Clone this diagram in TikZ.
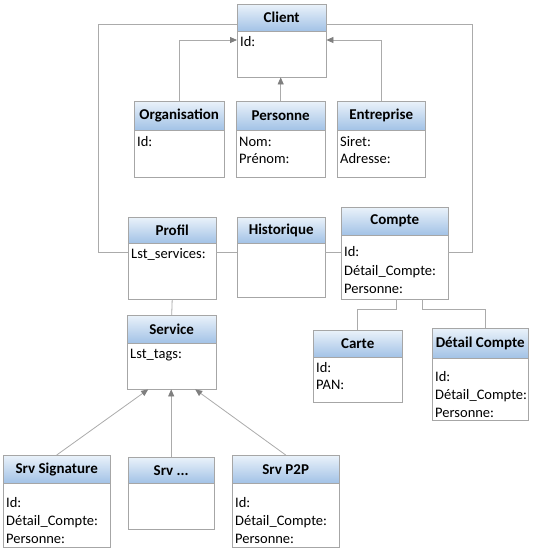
\documentclass[tikz,border=0pt]{standalone}
\usepackage{fontspec}
\setmainfont{Carlito}
\usetikzlibrary{arrows.meta}

\definecolor{boxgray}{HTML}{A6A6A6}
\definecolor{linegray}{HTML}{ABABAB}
\definecolor{tipgray}{HTML}{7F7F7F}
\definecolor{hdtop}{HTML}{EAF2FA}
\definecolor{hdbot}{HTML}{A2C2E6}

% width, height, first line height, text
\newcommand{\attrs}[4]{\parbox[c][#2][t]{#1}{\leftskip=3pt\rule{0pt}{#3}#4}}

\begin{document}
\begin{tikzpicture}[x=1pt,y=-1pt]
        \tikzset{
            hdr/.style={draw=boxgray, top color=hdtop, bottom color=hdbot, inner sep=0pt,
            anchor=north west, font=\bfseries\fontsize{15}{18}\selectfont},
            attr/.style={draw=boxgray, fill=white, inner sep=0pt, anchor=north west,
            font=\fontsize{14.5}{17}\selectfont},
            attrl/.style={attr, font=\fontsize{14.5}{18.3}\selectfont},
            link/.style={draw=linegray, line width=0.8pt},
            isa/.style={link, -{Triangle[length=7pt,width=6pt,color=tipgray]}}
            }
            \useasboundingbox (0,0) rectangle (541,550);

            \node[hdr, minimum width=89pt, minimum height=27pt] (clientH) at (237,4) {Client};
            \node[attr] (client) at (237,31) {\attrs{89pt}{46pt}{15.5pt}{Id:}};

            \node[hdr, minimum width=90pt, minimum height=29pt] (orgaH) at (134,101) {Organisation};
            \node[attr] (orga) at (134,130) {\attrs{90pt}{47pt}{16pt}{Id:}};

            \node[hdr, minimum width=89pt, minimum height=29pt] (persH) at (236,101) {Personne};
            \node[attr] (pers) at (236,130) {\attrs{89pt}{47pt}{16pt}{Nom:\\Prénom:}};

            \node[hdr, minimum width=88pt, minimum height=29pt] (entH) at (337,101) {Entreprise};
            \node[attr] (ent) at (337,130) {\attrs{88pt}{47pt}{16pt}{Siret:\\Adresse:}};

            \node[hdr, minimum width=88pt, minimum height=26pt] (profilH) at (128,217) {Profil};
            \node[attr] (profil) at (128,243) {\attrs{88pt}{56pt}{15pt}{Lst\_services:}};

            \node[hdr, minimum width=88pt, minimum height=26pt] (histoH) at (237,217) {Historique};
            \node[attr] (histo) at (237,243) {\attrs{88pt}{54pt}{15pt}{}};

            \node[hdr, minimum width=107pt, minimum height=28pt] (compteH) at (341,207) {Compte};
            \node[attrl] (compte) at (341,235) {\attrs{107pt}{64pt}{21.5pt}{Id:\\Détail\_Compte:\\Personne:}};

            \node[hdr, minimum width=89pt, minimum height=27pt] (carteH) at (313,330) {Carte};
            \node[attr] (carte) at (313,357) {\attrs{89pt}{45pt}{15pt}{Id:\\PAN:}};

            \node[hdr, minimum width=96pt, minimum height=30pt] (detailH) at (432,328) {Détail Compte};
            \node[attrl] (detail) at (432,358) {\attrs{96pt}{62pt}{23pt}{Id:\\Détail\_Compte:\\Personne:}};

            \node[hdr, minimum width=89pt, minimum height=28pt] (serviceH) at (127,315) {Service};
            \node[attr] (service) at (127,343) {\attrs{89pt}{46pt}{15pt}{Lst\_tags:}};

            \node[hdr, minimum width=107pt, minimum height=28pt] (sigH) at (3,455) {Srv Signature};
            \node[attrl] (sig) at (3,483) {\attrs{107pt}{64pt}{24pt}{Id:\\Détail\_Compte:\\Personne:}};

            \node[hdr, minimum width=86pt, minimum height=26pt] (etcH) at (128,457) {Srv ...};
            \node[attr] (etc) at (128,483) {\attrs{86pt}{46pt}{15pt}{}};

            \node[hdr, minimum width=107pt, minimum height=28pt] (p2pH) at (232,455) {Srv P2P};
            \node[attrl] (p2p) at (232,483) {\attrs{107pt}{64pt}{24pt}{Id:\\Détail\_Compte:\\Personne:}};

            % generalisation of Client
            \draw[isa] (orgaH.north) |- (client.west |- 0,40);
            \draw[isa] (persH.north) -- (persH.north |- client.south);
            \draw[isa] (entH.north) |- (client.east |- 0,40);

            % associations
            \draw[link] (profil.west |- 0,252) -| (98,24) -- (clientH.west |- 0,24);
            \draw[link] (profil.east |- 0,252) -- (histo.west |- 0,252);
            \draw[link] (histo.east |- 0,252) -- (compte.west |- 0,252);
            \draw[link] (compte.east |- 0,252) -| (472,24) -- (clientH.east |- 0,24);
            \draw[link] (profil.south) -- (serviceH.north);
            \draw[link] ([xshift=1.5pt]compte.south) -- ++(0,10) -| (carteH.north);
            \draw[link] ([xshift=27.5pt]compte.south) -- ++(0,10) -| ([xshift=5pt]detailH.north);

            % services
            \draw[isa] (sigH.north) -- ([xshift=-23.5pt]service.south);
            \draw[isa] (etcH.north) -- (etcH.north |- service.south);
            \draw[isa] (p2pH.north) -- ([xshift=23.5pt]service.south);
        \end{tikzpicture}
\end{document}
